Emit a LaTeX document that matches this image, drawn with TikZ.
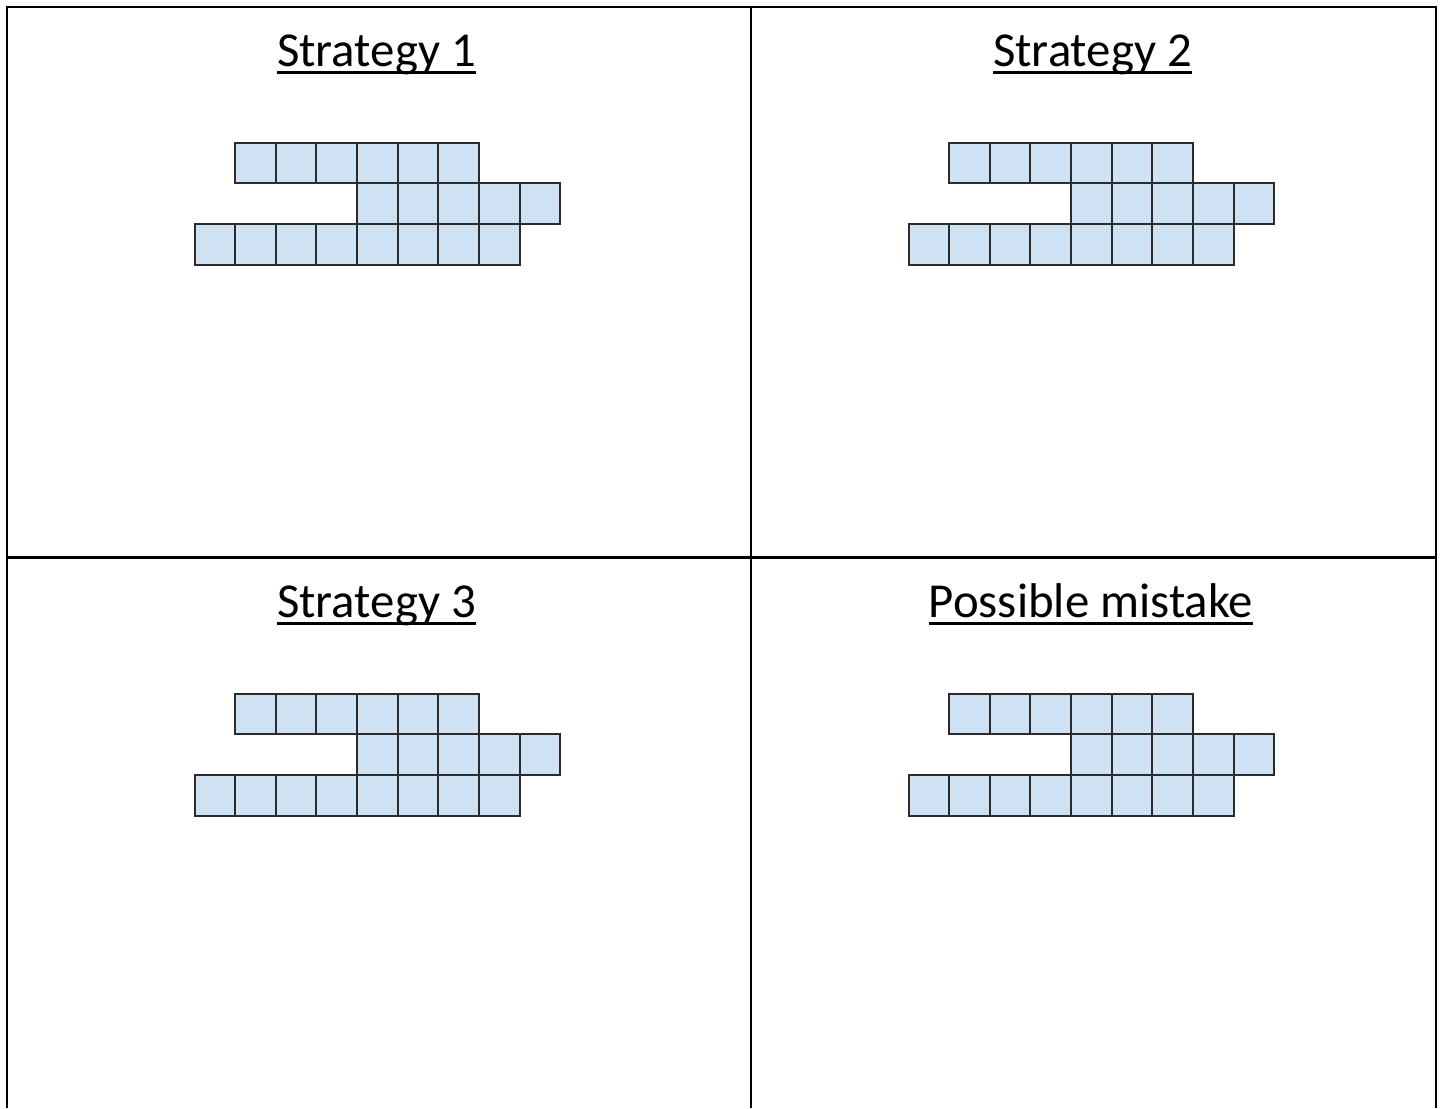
\documentclass[tikz,border=0pt]{standalone}
\usepackage{fontspec}
\setmainfont{Carlito}
\definecolor{cellfill}{HTML}{CFE2F3}
\definecolor{cellline}{HTML}{2B2B2B}
\tikzset{
  frame/.style={line width=2.6pt, black},
  cellbox/.style={fill=cellfill, draw=cellline, line width=2pt, line join=miter},
  titletext/.style={inner sep=0pt, anchor=base, font=\fontsize{48.8}{54}\selectfont},
  uline/.style={line width=2.8pt, black}
}
\newcommand{\cellgrid}[2]{%
  \begin{scope}[shift={(#1,#2)}]
    \foreach \c in {1,...,6} {\draw[cellbox] ({(\c)*40.65},0) rectangle ++(40.65,40.8);}
    \foreach \c in {4,...,8} {\draw[cellbox] ({(\c)*40.65},40.8) rectangle ++(40.65,40.8);}
    \foreach \c in {0,...,7} {\draw[cellbox] ({(\c)*40.65},81.6) rectangle ++(40.65,40.8);}
  \end{scope}}
\newcommand{\titled}[4]{%
  \node[titletext] (#1) at (#2,#3) {#4};
  \draw[uline] ([yshift=-5.8pt]#1.base west) -- ([yshift=-5.8pt]#1.base east);}
\begin{document}
\begin{tikzpicture}[x=1pt,y=-1pt]
\useasboundingbox (0,0) rectangle (1442,1108);
% frame
\draw[frame] (7,1108) -- (7,7) -- (1436,7) -- (1436,1108);
\draw[frame] (751,7) -- (751,1108);
\draw[frame] (7,557.5) -- (1436,557.5);
% titles
\titled{t1}{376.5}{66.7}{Strategy 1}
\titled{t2}{1092.5}{66.7}{Strategy 2}
\titled{t3}{376.5}{617.5}{Strategy 3}
\titled{t4}{1091}{617.5}{Possible mistake}
% grids
\cellgrid{194.5}{142.5}
\cellgrid{908.5}{142.5}
\cellgrid{194.5}{693.5}
\cellgrid{908.5}{693.5}
\end{tikzpicture}
\end{document}
